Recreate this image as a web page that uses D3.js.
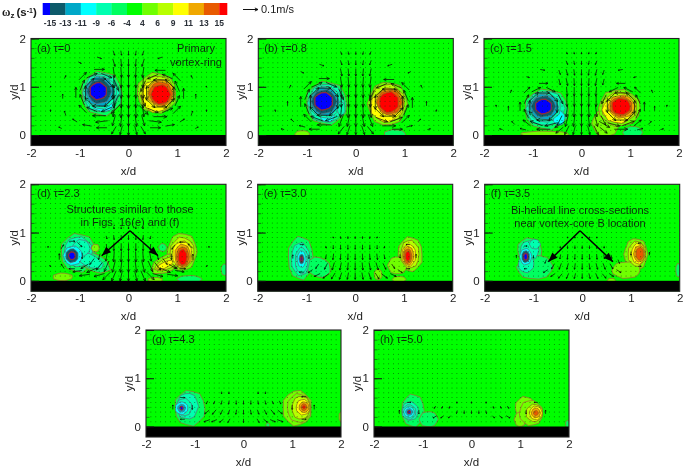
<!DOCTYPE html>
<html><head><meta charset="utf-8">
<script src="https://cdn.jsdelivr.net/npm/d3@7/dist/d3.min.js"></script>
<style>
html,body{margin:0;padding:0;background:#fff}
svg{display:block;filter:blur(0.35px)}
text{font-family:"Liberation Sans",Arial,sans-serif;fill:#1a1a1a}
</style></head><body><svg id="c" width="685" height="467"></svg>
<script>
// colour legend
const legendTicks = [-15,-13,-11,-9,-6,-4,4,6,9,11,13,15];
const legendColors = ["#0000ff","#0d5a6a","#00a8c8","#00ffff","#00ffb0","#00ff60","#00ff00","#70ff00","#b8ff00","#ffff00","#f0a800","#e85a00","#ff0000"];
const xTicks = [-2,-1,0,1,2];
const yTicks = [0,1,2];
const panelLabels = ["(a) τ=0","(b) τ=0.8","(c) τ=1.5","(d) τ=2.3","(e) τ=3.0","(f) τ=3.5","(g) τ=4.3","(h) τ=5.0"];

// vorticity patches: [x/d, y/d, rx, ry, rotation, omega]
const blobsA = [[-.55,.86,.42,.46,0,-5],[-.56,.87,.37,.4,0,-7.5],[-.52,.6,.2,.11,0,-10],[-.57,.88,.33,.34,0,-7.5],[-.59,.9,.29,.3,0,-12],[-.6,.9,.24,.25,0,-14],[-.62,.91,.175,.175,0,-16],
 [.58,.87,.4,.42,0,5],[.59,.86,.35,.37,0,7.5],[.56,.8,.3,.33,0,10],[.66,.87,.27,.28,0,12],[.66,.86,.24,.24,0,14],[.66,.84,.19,.2,0,16]];
const blobsB = [[-.6,.66,.42,.45,0,-5],[-.61,.66,.37,.4,0,-7.5],[-.58,.38,.14,.11,0,-10],[-.62,.68,.33,.33,0,-7.5],[-.64,.69,.29,.29,0,-12],[-.65,.69,.25,.25,0,-14],[-.66,.7,.19,.18,0,-16],[-.3,.55,.08,.14,0,-7.5],
 [.65,.65,.4,.45,0,5],[.65,.66,.35,.39,0,7.5],[.62,.6,.31,.33,0,10],[.7,.69,.28,.28,0,12],[.69,.68,.25,.25,0,14],[.68,.68,.2,.21,0,16],
 [.8,.02,.22,.09,0,-5],[-1.1,.02,.15,.07,0,5]];
const blobsC = [[-.72,.53,.45,.42,0,-5],[-.74,.55,.39,.36,0,-7.5],[-.46,.35,.12,.15,0,-10],[-.76,.57,.33,.3,0,-7.5],[-.77,.58,.29,.26,0,-12],[-.78,.59,.24,.22,0,-14],[-.78,.59,.17,.15,0,-16],[-.75,.02,.5,.06,0,5],
 [.5,.25,.28,.28,0,5],[.78,.56,.43,.38,0,5],[.78,.57,.36,.32,0,7.5],[.75,.52,.32,.27,0,10],[.82,.59,.27,.24,0,12],[.81,.59,.23,.2,0,14],[.81,.59,.19,.17,0,16],[1.05,.05,.2,.13,0,-5]];
const blobsD = [[-1.03,.58,.36,.4,0,-5],[-.75,.4,.4,.18,25,-5],[-1.03,.6,.29,.31,0,-7.5],[-.8,.42,.3,.13,25,-9],[-.97,.68,.18,.17,0,-9],[-1.14,.52,.19,.2,0,-10],[-1.16,.52,.13,.14,0,-14],[-1.16,.52,.07,.08,0,-16],
 [1.1,.6,.3,.39,0,5],[.8,.36,.36,.17,-25,5],[1.1,.58,.25,.32,0,7.5],[.8,.36,.28,.11,-25,7.5],[.75,.33,.18,.06,-25,10],[1.1,.55,.2,.27,0,10],[1.11,.52,.16,.24,0,12],[1.11,.5,.13,.2,0,14],[1.11,.49,.09,.16,0,16],
 [-1.35,.08,.2,.08,0,5],[.7,.69,.08,.08,0,-5],[1.25,.03,.25,.08,0,-5],[.55,.02,.15,.05,0,5],[1.97,.23,.07,.12,0,-5],[-.68,.68,.08,.08,0,5]];
const blobsE = [[-1.12,.47,.26,.45,0,-5],[-.75,.28,.25,.2,25,-5],[-1.12,.45,.19,.34,0,-7.5],[-1.1,.42,.13,.27,0,-9],[-1.1,.45,.09,.17,0,-11],[-1.1,.45,.05,.1,0,-14],[-1.1,.45,.02,.05,0,-16],
 [1.13,.55,.25,.36,0,5],[.87,.32,.2,.18,0,5],[1.12,.55,.19,.29,0,7.5],[1.1,.53,.14,.23,0,9],[1.09,.52,.11,.19,0,12],[1.08,.51,.08,.15,0,14],[1.08,.51,.05,.1,0,16],[.47,.13,.08,.11,0,5],[.9,.03,.14,.06,0,5]];
const blobsF = [[-1.08,.63,.25,.26,0,-5],[-.97,.28,.37,.25,0,-5],[-1.08,.63,.19,.2,0,-7.5],[-1.15,.35,.16,.18,0,-7.5],[-.97,.76,.11,.1,0,-9],[-1.16,.5,.12,.17,0,-11],[-1.16,.5,.08,.12,0,-14],[-1.16,.5,.04,.07,0,-16],
 [1.1,.55,.24,.33,0,5],[.9,.22,.29,.17,0,5],[1.12,.56,.18,.26,0,7.5],[1.15,.56,.14,.21,0,9],[1.17,.56,.11,.17,0,12],[1.18,.56,.08,.13,0,13.5],[1.97,.22,.05,.14,0,-5],[.6,.01,.08,.04,0,5]];
const blobsG = [[-1.1,.38,.31,.37,0,-5],[-1.15,.42,.22,.27,0,-7.5],[-1.22,.4,.16,.18,0,-9],[-1.27,.38,.13,.13,0,-11],[-1.27,.38,.08,.08,0,-13],[-1.27,.38,.03,.04,0,-16],
 [1.1,.38,.3,.36,0,5],[1.14,.38,.24,.3,0,5],[1.18,.39,.19,.24,0,7.5],[1.22,.4,.14,.16,0,9],[1.24,.4,.1,.11,0,12],[1.24,.4,.06,.07,0,14],[1.24,.4,.03,.03,0,16],[2,.2,.04,.1,0,5],[.5,.03,.04,.04,0,-5]];
const blobsH = [[-1.2,.33,.23,.34,0,-5],[-.88,.15,.19,.16,0,-5],[-1.26,.32,.17,.19,0,-7.5],[-1.28,.3,.14,.15,0,-9],[-1.28,.3,.11,.11,0,-11],[-1.28,.3,.07,.07,0,-13],[-1.28,.3,.03,.03,0,-16],
 [1.1,.38,.2,.24,0,5],[1.0,.15,.12,.15,0,5],[1.22,.28,.24,.26,0,5],[1.29,.28,.17,.18,0,7.5],[1.32,.28,.13,.14,0,10],[1.32,.28,.09,.1,0,12],[1.32,.28,.05,.05,0,14],[1.97,.05,.04,.08,0,-5]];

// velocity samples: [x/d, y/d, u, v] (cm/s)
const arrowsA = [
 [-.3,1.7,1,-3],[-.3,1.5,1.5,-5],[-.3,1.3,1,-7],[-.3,1.1,.5,-8],[-.3,.9,0,-9],[-.3,.7,0,-9],[-.3,.5,-1,-8],[-.3,.3,-2,-7],[-.3,.1,-3,-5],
 [-.15,1.7,.5,-3],[-.15,1.5,.5,-5],[-.15,1.3,.5,-7],[-.15,1.1,0,-8],[-.15,.9,0,-9],[-.15,.7,0,-9],[-.15,.5,-.5,-9],[-.15,.3,-1,-8],[-.15,.1,-1.5,-6],
 [0,1.7,0,-3],[0,1.5,0,-5],[0,1.3,0,-7],[0,1.1,0,-8],[0,.9,0,-9],[0,.7,0,-10],[0,.5,0,-9],[0,.3,0,-8],[0,.1,0,-7],
 [.15,1.7,-.5,-3],[.15,1.5,-.5,-5],[.15,1.3,-.5,-7],[.15,1.1,0,-8],[.15,.9,0,-9],[.15,.7,0,-9],[.15,.5,.5,-9],[.15,.3,1,-8],[.15,.1,1.5,-6],
 [.3,1.7,-1,-3],[.3,1.5,-1.5,-5],[.3,1.3,-1,-7],[.3,1.1,-.5,-8],[.3,.9,0,-9],[.3,.7,0,-9],[.3,.5,1,-8],[.3,.3,2,-7],[.3,.1,3,-5],
 [-.32,.88,0,-9],[-.4,1.08,6,-6],[-.6,1.16,9,0],[-.8,1.08,6,6],[-.88,.88,0,9],[-.8,.68,-6,6],[-.6,.6,-9,0],[-.4,.68,-6,-6],
 [-.6,1.36,7,0],[-.94,1.22,5,5],[-1.08,.88,0,7],[-.94,.54,-5,5],[-.6,.4,-9,0],[-.26,.54,-6,-6],
 [-.25,1.03,3,-7],[-.45,1.23,7,-3],[-.75,1.23,7,3],[-.95,1.03,3,7],[-.95,.73,-3,7],[-.75,.53,-7,3],[-.45,.53,-7,-3],[-.25,.73,-3,-7],
 [-.6,1.6,3,-1],[-1,1.5,2,-1],[-1.3,1.2,1,2],[-1.35,.8,0,3],[-1.3,.45,-1,3],[-1.1,.3,-3,2],[-.85,.2,-6,1],[-.55,.15,-7,0],[-.55,.28,-8,-1],[-1.4,.15,-2,1],[-1.6,.5,0,1.5],[-1.6,1,.5,1],
 [.37,.86,0,-9],[.45,1.06,-6,-6],[.65,1.14,-9,0],[.85,1.06,-6,6],[.93,.86,0,9],[.85,.66,6,6],[.65,.58,9,0],[.45,.66,6,-6],
 [.65,1.34,-7,0],[.99,1.2,-5,5],[1.13,.86,0,7],[.99,.52,5,5],[.65,.38,9,0],[.31,.52,6,-6],
 [.3,1.01,-3,-7],[.5,1.21,-7,-3],[.8,1.21,-7,3],[1,1.01,-3,7],[1,.71,3,7],[.8,.51,7,3],[.5,.51,7,-3],[.3,.71,3,-7],
 [.65,1.6,-3,-1],[1,1.5,-2,-1],[1.3,1.2,-1,2],[1.38,.8,0,3],[1.3,.45,1,3],[1.1,.3,3,2],[.85,.2,6,1],[.55,.15,7,0],[.55,.28,8,-1],[1.4,.15,2,1],[1.6,.5,0,1.5],[1.6,1,-.5,1]];
const arrowsB = [
 [-.3,1.7,.8,-2],[-.3,1.5,1,-3],[-.3,1.3,1,-5],[-.3,1.1,1,-7],[-.3,.9,.5,-8],[-.3,.7,0,-8],[-.3,.5,-1,-9],[-.3,.3,-3,-8],[-.3,.1,-4,-5],
 [-.15,1.7,.4,-2],[-.15,1.5,.5,-3],[-.15,1.3,.5,-5],[-.15,1.1,.5,-7],[-.15,.9,0,-8],[-.15,.7,0,-8],[-.15,.5,-.5,-9],[-.15,.3,-1.5,-8],[-.15,.1,-2,-6],
 [0,1.7,0,-2],[0,1.5,0,-3],[0,1.3,0,-5],[0,1.1,0,-7],[0,.9,0,-8],[0,.7,0,-9],[0,.5,0,-9],[0,.3,0,-8],[0,.1,0,-6],
 [.15,1.7,-.4,-2],[.15,1.5,-.5,-3],[.15,1.3,-.5,-5],[.15,1.1,-.5,-7],[.15,.9,0,-8],[.15,.7,0,-8],[.15,.5,.5,-9],[.15,.3,1.5,-8],[.15,.1,2,-6],
 [.3,1.7,-.8,-2],[.3,1.5,-1,-3],[.3,1.3,-1,-5],[.3,1.1,-1,-7],[.3,.9,-.5,-8],[.3,.7,0,-8],[.3,.5,1,-9],[.3,.3,3,-8],[.3,.1,4,-5],
 [-.37,.69,0,-9],[-.45,.89,6,-6],[-.65,.97,9,0],[-.85,.89,6,6],[-.93,.69,0,9],[-.85,.49,-6,6],[-.65,.41,-9,0],[-.45,.49,-6,-6],
 [-.65,1.17,7,0],[-.99,1.03,5,5],[-1.13,.69,0,7],[-.99,.35,-5,5],[-.65,.21,-9,0],
 [-.3,.84,3,-7],[-.5,1.04,7,-3],[-.8,1.04,7,3],[-1,.84,3,7],[-1,.54,-3,7],[-.8,.34,-8,3],[-.5,.34,-8,-3],
 [-.7,1.45,3,-1],[-1.1,1.3,2,-1],[-1.35,1,1,2],[-1.4,.65,0,3],[-1.3,.3,-2,2],[-1.1,.18,-4,1],[-.85,.12,-7,0],[-1.5,.12,-2,.5],[-1.65,.5,-.3,1.5],
 [.4,.67,0,-9],[.48,.87,-6,-6],[.68,.95,-9,0],[.88,.87,-6,6],[.96,.67,0,9],[.88,.47,6,6],[.68,.39,9,0],[.48,.47,6,-6],
 [.68,1.15,-7,0],[1.02,1.01,-5,5],[1.16,.67,0,7],[1.02,.33,5,5],[.68,.19,9,0],
 [.33,.82,-3,-7],[.53,1.02,-7,-3],[.83,1.02,-7,3],[1.03,.82,-3,7],[1.03,.52,3,7],[.83,.32,8,3],[.53,.32,8,-3],
 [.7,1.45,-3,-1],[1.1,1.3,-2,-1],[1.35,1,-1,2],[1.45,.65,0,3],[1.3,.3,2,2],[1.1,.18,4,1],[.85,.12,7,0],[1.5,.12,2,.5],[1.65,.5,.3,1.5]];
const arrowsC = [
 [-.45,1.3,1,-3],[-.45,1.1,1,-4],[-.45,.3,-3,-6],[-.45,.1,-5,-4],[.45,1.3,-1,-3],[.45,1.1,-1,-4],[.45,.3,3,-6],[.45,.1,5,-4],
 [-.3,1.7,.5,-1.5],[-.3,1.5,1,-2.5],[-.3,1.3,1,-4],[-.3,1.1,1,-5],[-.3,.9,.5,-6],[-.3,.7,0,-7],[-.3,.5,-1,-8],[-.3,.3,-2,-8],[-.3,.1,-3,-6],
 [-.15,1.7,.3,-1.5],[-.15,1.5,.5,-2.5],[-.15,1.3,.5,-4],[-.15,1.1,.3,-5],[-.15,.9,0,-6],[-.15,.7,0,-7],[-.15,.5,-.5,-8],[-.15,.3,-1,-8],[-.15,.1,-1.5,-6],
 [0,1.7,0,-1.5],[0,1.5,0,-2.5],[0,1.3,0,-4],[0,1.1,0,-5],[0,.9,0,-6],[0,.7,0,-7],[0,.5,0,-8],[0,.3,0,-8],[0,.1,0,-6],
 [.15,1.7,-.3,-1.5],[.15,1.5,-.5,-2.5],[.15,1.3,-.5,-4],[.15,1.1,-.3,-5],[.15,.9,0,-6],[.15,.7,0,-7],[.15,.5,.5,-8],[.15,.3,1,-8],[.15,.1,1.5,-6],
 [.3,1.7,-.5,-1.5],[.3,1.5,-1,-2.5],[.3,1.3,-1,-4],[.3,1.1,-1,-5],[.3,.9,-.5,-6],[.3,.7,0,-7],[.3,.5,1,-8],[.3,.3,2,-8],[.3,.1,3,-6],
 [-.5,.59,0,-8],[-.58,.79,6,-6],[-.78,.87,8,0],[-.98,.79,6,6],[-1.06,.59,0,8],[-.98,.39,-6,6],[-.78,.31,-9,0],[-.58,.39,-6,-6],
 [-.78,1.07,6,0],[-1.12,.93,4,4],[-1.26,.59,0,6],[-1.12,.25,-5,4],[-.78,.12,-9,0],[-.44,.22,-7,-4],
 [-.43,.74,3,-6],[-.63,.94,6,-3],[-.93,.94,6,3],[-1.13,.74,3,6],[-1.13,.44,-3,6],[-.93,.24,-8,3],[-.63,.22,-8,-2],
 [-.8,1.35,3,-.5],[-1.1,1.2,2,-.5],[-1.45,.9,.8,2],[-1.5,.55,0,3],[-1.4,.25,-2,2],[-1.2,.12,-4,1],[-1.65,.12,-2,.5],[-1.75,.6,-.3,1.5],
 [.53,.59,0,-8],[.61,.79,-6,-6],[.81,.87,-8,0],[1.01,.79,-6,6],[1.09,.59,0,8],[1.01,.39,6,6],[.81,.31,9,0],[.61,.39,6,-6],
 [.81,1.07,-6,0],[1.15,.93,-4,4],[1.29,.59,0,6],[1.15,.25,5,4],[.81,.12,9,0],[.47,.22,7,-4],
 [.46,.74,-3,-6],[.66,.94,-6,-3],[.96,.94,-6,3],[1.16,.74,-3,6],[1.16,.44,3,6],[.96,.24,8,3],[.66,.22,8,-2],
 [.8,1.35,-3,-.5],[1.1,1.2,-2,-.5],[1.45,.9,-.8,2],[1.5,.55,0,3],[1.4,.25,2,2],[1.2,.12,4,1],[1.65,.12,2,.5],[1.75,.6,.3,1.5]];
const arrowsD = [
 [-.45,.9,.5,-2],[-.45,.7,.3,-4],[-.45,.5,-1,-6],[-.45,.3,-3,-7],[-.45,.1,-5,-5],
 [-.3,1.1,.3,-1.5],[-.3,.9,.3,-3],[-.3,.7,0,-5],[-.3,.5,-.5,-7],[-.3,.3,-2,-8],[-.3,.1,-3,-7],
 [-.15,1.1,0,-1.5],[-.15,.9,0,-3],[-.15,.7,0,-5],[-.15,.5,-.3,-7],[-.15,.3,-1,-8],[-.15,.1,-1.5,-7],
 [0,1.1,0,-1.5],[0,.9,0,-3],[0,.7,0,-5],[0,.5,0,-7],[0,.3,0,-8],[0,.1,0,-7],
 [.15,1.1,0,-1.5],[.15,.9,0,-3],[.15,.7,0,-5],[.15,.5,.3,-7],[.15,.3,1,-8],[.15,.1,1.5,-7],
 [.3,1.1,-.3,-1.5],[.3,.9,-.3,-3],[.3,.7,0,-5],[.3,.5,.5,-7],[.3,.3,2,-8],[.3,.1,3,-7],
 [.45,.9,-.5,-2],[.45,.7,-.3,-4],[.45,.5,1,-6],[.45,.3,3,-7],[.45,.1,5,-5],
 [-.6,.5,-1,-4],[-.6,.3,-4,-5],[-.6,.12,-7,-2],[-.75,.4,-3,-4],[-.75,.22,-7,-3],[-.9,.3,-5,-3],[-.9,.12,-7,-1],[-1.05,.2,-6,-1],
 [.6,.5,1,-4],[.6,.3,4,-5],[.6,.12,7,-2],[.75,.4,3,-4],[.75,.22,7,-3],[.9,.3,5,-3],[.9,.12,7,-1],[1.05,.2,6,-1],
 [-.95,.52,0,-4],[-1,.75,3,-3],[-1.16,.82,4,0],[-1.36,.7,2,3],[-1.42,.5,0,4],[-1.35,.3,-2,3],[-1.16,.25,-4,0],
 [1.32,.49,0,4],[1.27,.72,-3,3],[1.11,.8,-4,0],[.92,.7,-2,-3],[.88,.5,0,-4],[.95,.3,3,-3],[1.11,.25,4,0],
 [-1.6,.3,-1,1],[-1.65,.7,0,1],[1.6,.3,1,1],[1.65,.7,0,1]];
const arrowsE = [
 [-.6,.7,.3,-1.5],[-.6,.5,-.5,-3],[-.6,.3,-2,-4],[-.6,.1,-4,-3],
 [-.45,.9,.3,-1],[-.45,.7,0,-2.5],[-.45,.5,-.5,-4],[-.45,.3,-1.5,-5],[-.45,.1,-2.5,-4],
 [-.3,.9,.2,-1.5],[-.3,.7,0,-3],[-.3,.5,-.3,-4],[-.3,.3,-1,-5],[-.3,.1,-1.5,-4.5],
 [-.15,.9,0,-1.5],[-.15,.7,0,-3],[-.15,.5,-.2,-4],[-.15,.3,-.5,-5],[-.15,.1,-.8,-4.5],
 [0,.9,0,-1.5],[0,.7,0,-3],[0,.5,0,-4],[0,.3,0,-5],[0,.1,0,-4.5],
 [.15,.9,0,-1.5],[.15,.7,0,-3],[.15,.5,.2,-4],[.15,.3,.5,-5],[.15,.1,.8,-4.5],
 [.3,.9,-.2,-1.5],[.3,.7,0,-3],[.3,.5,.3,-4],[.3,.3,1,-5],[.3,.1,1.5,-4.5],
 [.45,.9,-.3,-1],[.45,.7,0,-2.5],[.45,.5,.5,-4],[.45,.3,1.5,-5],[.45,.1,2.5,-4],
 [.6,.7,-.3,-1.5],[.6,.5,.5,-3],[.6,.3,2,-4],[.6,.1,4,-3],
 [-.78,.3,-2,-3],[-.78,.12,-4,-2],[-.92,.2,-3,-2],[.78,.3,2,-3],[.78,.12,4,-2],[.92,.2,3,-2],
 [-.95,.5,0,-2.5],[-1.1,.75,2.5,0],[-1.28,.5,0,2.5],[-1.1,.18,-3,0],
 [.92,.51,0,-2.5],[1.08,.75,-2.5,0],[1.25,.51,0,2.5],[1.08,.25,2.5,0]];
const arrowsF = [
 [-.75,.4,-1,-2.5],[-.75,.2,-3,-2],[-.6,.5,-.5,-2.5],[-.6,.3,-2,-3.5],[-.6,.12,-3,-2],
 [-.45,.7,0,-1.5],[-.45,.5,-.5,-3],[-.45,.3,-1.5,-4],[-.45,.1,-2.5,-3],
 [-.3,.9,0,-1],[-.3,.7,0,-2],[-.3,.5,-.3,-3.5],[-.3,.3,-1,-4],[-.3,.1,-1.5,-3.5],
 [-.15,.9,0,-1],[-.15,.7,0,-2],[-.15,.5,-.2,-3.5],[-.15,.3,-.5,-4],[-.15,.1,-.8,-3.5],
 [0,.9,0,-1],[0,.7,0,-2],[0,.5,0,-3.5],[0,.3,0,-4],[0,.1,0,-3.5],
 [.15,.9,0,-1],[.15,.7,0,-2],[.15,.5,.2,-3.5],[.15,.3,.5,-4],[.15,.1,.8,-3.5],
 [.3,.9,0,-1],[.3,.7,0,-2],[.3,.5,.3,-3.5],[.3,.3,1,-4],[.3,.1,1.5,-3.5],
 [.45,.7,0,-1.5],[.45,.5,.5,-3],[.45,.3,1.5,-4],[.45,.1,2.5,-3],
 [.6,.5,.5,-2.5],[.6,.3,2,-3.5],[.6,.12,3,-2],[.75,.4,1,-2.5],[.75,.2,3,-2],
 [-1,.5,0,-2],[-1.16,.72,2,0],[-1.35,.5,0,2],[-1.16,.25,-2,0],[1,.56,0,-2],[1.18,.78,-2,0],[1.38,.56,0,2],[1.18,.3,2,0]];
const arrowsG = [
 [-.75,.5,-1,-2],[-.75,.3,-3,-2.5],[-.75,.12,-4,-1.5],[-.6,.5,-.8,-2],[-.6,.3,-2.5,-3],[-.6,.12,-3.5,-1.5],
 [-.45,.7,0,-1.5],[-.45,.5,-.6,-2.5],[-.45,.3,-1.5,-3],[-.45,.12,-2.5,-2],
 [-.3,.7,0,-1.5],[-.3,.5,-.4,-2.5],[-.3,.3,-1,-3],[-.3,.12,-1.5,-2.5],
 [-.15,.5,0,-2.5],[-.15,.3,-.5,-3],[0,.5,0,-2.5],[0,.3,0,-3],[0,.12,0,-2.5],[.15,.5,0,-2.5],[.15,.3,.5,-3],
 [.3,.7,0,-1.5],[.3,.5,.4,-2.5],[.3,.3,1,-3],[.3,.12,1.5,-2.5],
 [.45,.7,0,-1.5],[.45,.5,.6,-2.5],[.45,.3,1.5,-3],[.45,.12,2.5,-2],
 [.6,.5,.8,-2],[.6,.3,2.5,-3],[.6,.12,3.5,-1.5],[.75,.5,1,-2],[.75,.3,3,-2.5],[.75,.12,4,-1.5],
 [-1.05,.4,0,-3],[-1.25,.6,3,0],[-1.45,.4,0,3],[-1.25,.15,-3,0],[1,.4,0,-3],[1.24,.62,-3,0],[1.45,.4,0,3],[1.24,.15,3,0]];
const arrowsH = [
 [-.75,.4,-1,-1.5],[-.75,.2,-2.5,-1.5],[-.6,.4,-.6,-1.5],[-.6,.2,-2,-1.5],[-.45,.4,-.4,-1.5],[-.45,.2,-1.5,-1.5],
 [-.3,.5,0,-1.2],[-.3,.3,-.5,-2],[-.15,.3,0,-2],[0,.5,0,-1.2],[0,.3,0,-2],[.15,.3,0,-2],[.3,.5,0,-1.2],[.3,.3,.5,-2],
 [.45,.4,.4,-1.5],[.45,.2,1.5,-1.5],[.6,.4,.6,-1.5],[.6,.2,2,-1.5],[.75,.4,1,-1.5],[.75,.2,2.5,-1.5],
 [-1.08,.3,0,-2.5],[-1.28,.5,2.5,0],[-1.48,.3,0,2.5],[1.12,.3,0,-2.5],[1.32,.5,-2.5,0],[1.52,.3,0,2.5]];

const panelBlobs = [blobsA,blobsB,blobsC,blobsD,blobsE,blobsF,blobsG,blobsH];
const panelArrows = [arrowsA,arrowsB,arrowsC,arrowsD,arrowsE,arrowsF,arrowsG,arrowsH];

// contour outline roughness (relative radius around each patch)
const outlineRadii = [1,1.05,.97,1.04,.95,1.03,1,.96,1.06,.98,1.03,.95,1.04,.98];

// layout
const panelLefts = [31,258.3,484,31,257.7,484.7,146,374];
const panelTops = [38.5,38.5,38.5,184.3,184.3,184.3,330,330];
const plotW = 195, plotH = 107, bandH = 10.5;

const svg = d3.select("#c");
const color = d3.scaleThreshold().domain(legendTicks).range(legendColors);
const speed = d3.scaleLinear().domain([0,10]).range([0,15]);

// legend
const lx = d3.scalePoint().domain(legendTicks).range([50,219.3]);
const edges = [42.7, ...legendTicks.map(d=>lx(d)), 227];
svg.append("g").selectAll("rect").data(legendColors).join("rect")
  .attr("x",(d,i)=>edges[i]).attr("width",(d,i)=>edges[i+1]-edges[i]+.3)
  .attr("y",3).attr("height",12).attr("fill",d=>d);
svg.append("g").selectAll("text").data(legendTicks).join("text")
  .attr("x",d=>lx(d)).attr("y",25.5).attr("text-anchor","middle")
  .attr("font-size",8.5).attr("font-weight","bold").style("fill","#2a3038").text(d=>d);
const title = svg.append("text").attr("x",2).attr("y",16).attr("font-size",11.5).attr("font-weight","bold");
title.append("tspan").attr("font-family","Liberation Serif").text("ω");
title.append("tspan").attr("font-size",8).attr("dy",2).text("z");
title.append("tspan").attr("dy",-2).attr("dx",2).text("(s");
title.append("tspan").attr("font-size",7).attr("dy",-3).text("-1");
title.append("tspan").attr("dy",3).text(")");

function arrowPath(px,py,dx,dy,head){
  const p = d3.path(), a = Math.atan2(dy,dx), tx = px+dx, ty = py+dy;
  p.moveTo(px,py); p.lineTo(tx,ty);
  p.moveTo(tx-head*Math.cos(a-.45),ty-head*Math.sin(a-.45));
  p.lineTo(tx,ty);
  p.lineTo(tx-head*Math.cos(a+.45),ty-head*Math.sin(a+.45));
  return p.toString();
}
svg.append("path").attr("d",arrowPath(243,9.5,speed(10),0,3.5)).attr("fill","none").attr("stroke","#111").attr("stroke-width",1);
svg.append("text").attr("x",261).attr("y",13).attr("font-size",11).text("0.1m/s");

// panels
panelLabels.forEach((label,i)=>{
  const left = panelLefts[i], top = panelTops[i];
  const x = d3.scaleLinear().domain([-2,2]).range([0,plotW]);
  const y = d3.scaleLinear().domain([0,2]).range([plotH-bandH,0]);
  const g = svg.append("g").attr("transform",`translate(${left},${top})`);
  const cid = "clip"+i;
  g.append("clipPath").attr("id",cid).append("rect").attr("width",plotW).attr("height",plotH);
  g.append("rect").attr("width",plotW).attr("height",plotH).attr("fill","#00ff00");
  const plot = g.append("g").attr("clip-path",`url(#${cid})`);

  const outline = d3.line().curve(d3.curveLinearClosed);
  plot.selectAll("path.b").data(panelBlobs[i]).join("path").attr("class","b")
    .attr("transform",d=>`translate(${x(d[0])},${y(d[1])}) rotate(${d[4]})`)
    .attr("d",(d,k)=>{
      const rx = x(d[2])-x(0), ry = y(0)-y(d[3]);
      return outline(outlineRadii.map((r,j)=>{
        const t = j/outlineRadii.length*2*Math.PI;
        const q = outlineRadii[(j+k*3)%outlineRadii.length];
        return [q*rx*Math.cos(t), q*ry*Math.sin(t)];
      }));
    })
    .attr("fill",d=>color(d[5]))
    .attr("stroke",d=>d[5]<=-16?"#8c2c3c":Math.abs(d[5])<6?"#a8603a":d[5]<0?"#56707a":"#8a6418")
    .attr("stroke-width",d=>d[5]<=-16?1.3:.7);

  // grid of sample points of the PIV field
  const gridX = d3.range(-1.9,1.95,.1), gridY = d3.range(.1,1.95,.1);
  plot.append("g").attr("fill","#063a06").selectAll("circle")
    .data(d3.cross(gridX,gridY)).join("circle")
    .attr("cx",d=>x(d[0])).attr("cy",d=>y(d[1])).attr("r",.5).attr("opacity",.7);

  plot.append("path")
    .attr("d",panelArrows[i].map(d=>{
      const dx = speed(d[2]), dy = -speed(d[3]);
      return arrowPath(x(d[0])-dx/2,y(d[1])-dy/2,dx,dy,Math.max(1.2,Math.hypot(dx,dy)*.28));
    }).join(""))
    .attr("fill","none").attr("stroke","#061006").attr("stroke-width",.8).attr("stroke-opacity",.9);

  plot.append("rect").attr("x",0).attr("y",y(0)).attr("width",plotW).attr("height",bandH).attr("fill","#000");

  // inner ticks
  const minor = g.append("g").call(d3.axisLeft(y).tickValues(d3.range(0,2.01,.2)).tickSize(-3.5).tickFormat(""));
  minor.select(".domain").remove(); minor.selectAll("line").attr("stroke","#222").attr("stroke-width",.6);
  const major = g.append("g").call(d3.axisLeft(y).tickValues(yTicks).tickSize(-8).tickFormat(""));
  major.select(".domain").remove(); major.selectAll("line").attr("stroke","#111").attr("stroke-width",1);

  g.append("rect").attr("width",plotW).attr("height",plotH).attr("fill","none").attr("stroke","#222").attr("stroke-width",1.1);

  // axes labels
  const ax = g.append("g").attr("transform",`translate(0,${plotH})`)
    .call(d3.axisBottom(x).tickValues(xTicks).tickSize(0).tickPadding(3).tickFormat(d=>String(d)));
  ax.select(".domain").remove();
  ax.selectAll("text").attr("font-size",11.5).attr("font-family",null).style("fill","#222");
  const ay = g.append("g").call(d3.axisLeft(y).tickValues(yTicks).tickSize(0).tickPadding(5).tickFormat(d=>String(d)));
  ay.select(".domain").remove();
  ay.selectAll("text").attr("font-size",11.5).attr("font-family",null).style("fill","#222");

  g.append("text").attr("x",plotW/2).attr("y",plotH+29).attr("text-anchor","middle").attr("font-size",11.5).style("fill","#222").text("x/d");
  g.append("text").attr("transform",`translate(-13,${plotH/2}) rotate(-90)`).attr("text-anchor","middle").attr("font-size",11.5).style("fill","#222").text("y/d");
  g.append("text").attr("x",6).attr("y",13).attr("font-size",11).style("fill","#0c2c0c").text(label);
});

// annotations, in figure coordinates of panels a, d, f
const notesA = ["Primary","vortex-ring"];
const notesD = ["Structures similar to those","in Figs. 16(e) and (f)"];
const notesF = ["Bi-helical line cross-sections","near vortex-core B location"];
const tip = (x1,y1,x2,y2)=>{ 
  svg.append("path").attr("d",arrowPath(x1,y1,x2-x1,y2-y1,0)).attr("stroke","#000").attr("stroke-width",1.5).attr("fill","none");
  const a = Math.atan2(y2-y1,x2-x1), h=10;
  svg.append("path").attr("d",d3.line()([[x2,y2],[x2-h*Math.cos(a-.38),y2-h*Math.sin(a-.38)],[x2-h*Math.cos(a+.38),y2-h*Math.sin(a+.38)]])+"Z").attr("fill","#000");
};
const note = (arr,cx,y0,dy)=>arr.forEach((t,i)=>svg.append("text").attr("x",cx).attr("y",y0+i*dy).attr("text-anchor","middle").attr("font-size",11).style("fill","#0c2c0c").text(t));
note(notesA,196,51.5,14);
note(notesD,130,213,13.2);
note(notesF,580,214,13.2);
tip(130,230.7,101.7,255.7); tip(130,230.7,158,255.7);
tip(580,230.7,548.3,261.7); tip(580,230.7,613,261.7);
</script></body></html>
